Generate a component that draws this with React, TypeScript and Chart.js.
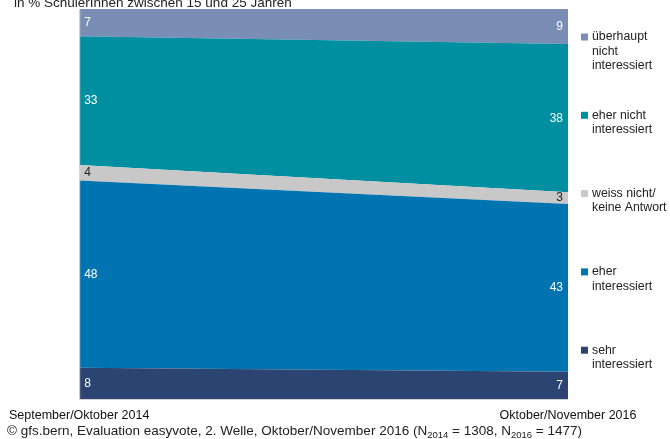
import React, { useEffect, useRef } from "react";
import { Chart, registerables } from "chart.js";

Chart.register(...registerables);

// ---- data ----
const periods = ["September/Oktober 2014", "Oktober/November 2016"];
const seriesNames = [
  "sehr interessiert",
  "eher interessiert",
  "weiss nicht/ keine Antwort",
  "eher nicht interessiert",
  "überhaupt nicht interessiert",
];
const sehrInteressiert = [8, 7];
const eherInteressiert = [48, 43];
const weissNicht = [4, 3];
const eherNichtInteressiert = [33, 38];
const ueberhauptNicht = [7, 9];
const legendLines = [
  ["sehr", "interessiert"],
  ["eher", "interessiert"],
  ["weiss nicht/", "keine Antwort"],
  ["eher nicht", "interessiert"],
  ["überhaupt", "nicht", "interessiert"],
];
const subtitle = "in % SchülerInnen zwischen 15 und 25 Jahren";
const footerParts = [
  { t: "© gfs.bern, Evaluation easyvote, 2. Welle, Oktober/November 2016 (N", sub: false },
  { t: "2014", sub: true },
  { t: " = 1308, N", sub: false },
  { t: "2016", sub: true },
  { t: " = 1477)", sub: false },
];

const colors = ["#2C4471", "#0073B1", "#C8C8C8", "#008FA0", "#7A8EB5"];
const labelColors = ["#ffffff", "#ffffff", "#222222", "#ffffff", "#ffffff"];
const FONT = "'Liberation Sans', Arial, sans-serif";

const overlayPlugin = {
  id: "overlay",
  afterDatasetsDraw(chart: any) {
    const { ctx, chartArea } = chart;
    const yScale = chart.scales.y;
    const ds = chart.data.datasets;
    ctx.save();
    // axis lines
    ctx.strokeStyle = "#d4d4d4";
    ctx.lineWidth = 1;
    ctx.beginPath();
    ctx.moveTo(chartArea.left + 0.5, chartArea.top);
    ctx.lineTo(chartArea.left + 0.5, chartArea.bottom + 0.5);
    ctx.lineTo(chartArea.right, chartArea.bottom + 0.5);
    ctx.stroke();

    // value labels
    ctx.font = `12px ${FONT}`;
    ctx.textBaseline = "middle";
    const n = ds[0].data.length;
    [0, n - 1].forEach((idx) => {
      let cum = 0;
      ds.forEach((d: any, i: number) => {
        const v = d.data[idx];
        const y = yScale.getPixelForValue(cum + v / 2);
        cum += v;
        ctx.fillStyle = labelColors[i];
        if (idx === 0) {
          ctx.textAlign = "left";
          ctx.fillText(String(v), chartArea.left + 5, y);
        } else {
          ctx.textAlign = "right";
          ctx.fillText(String(v), chartArea.right - 5, y);
        }
      });
    });

    // legend (top to bottom = reverse of stack order)
    ctx.font = `12.3px ${FONT}`;
    const order = [4, 3, 2, 1, 0];
    order.forEach((si, k) => {
      const cy = 37 + k * 78.3;
      ctx.fillStyle = colors[si];
      ctx.fillRect(581, cy - 3.5, 7, 7);
      ctx.fillStyle = "#222";
      ctx.textAlign = "left";
      ctx.textBaseline = "middle";
      legendLines[si].forEach((line, li) => {
        ctx.fillText(line, 592, cy + li * 14.5);
      });
    });

    // subtitle
    ctx.font = `13.5px ${FONT}`;
    ctx.textBaseline = "alphabetic";
    ctx.textAlign = "left";
    ctx.fillStyle = "#222";
    ctx.fillText(subtitle, 14, 6.5);

    // footer
    let x = 7;
    const base = 435;
    footerParts.forEach((p) => {
      ctx.font = p.sub ? `9.5px ${FONT}` : `13.5px ${FONT}`;
      ctx.fillText(p.t, x, p.sub ? base + 2.5 : base);
      x += ctx.measureText(p.t).width;
    });
    ctx.restore();
  },
};

export default function App() {
  const ref = useRef<HTMLCanvasElement | null>(null);
  useEffect(() => {
    if (!ref.current) return;
    const series = [sehrInteressiert, eherInteressiert, weissNicht, eherNichtInteressiert, ueberhauptNicht];
    const chart = new Chart(ref.current, {
      type: "line",
      data: {
        labels: periods,
        datasets: series.map((s, i) => ({
          label: seriesNames[i],
          data: s,
          backgroundColor: colors[i],
          borderColor: colors[i],
          borderWidth: 0,
          pointRadius: 0,
          tension: 0,
          fill: i === 0 ? "origin" : "-1",
        })),
      },
      options: {
        animation: false,
        responsive: true,
        maintainAspectRatio: false,
        layout: { padding: { left: 78, right: 102, top: 9, bottom: 7 } },
        plugins: { legend: { display: false }, tooltip: { enabled: false } },
        scales: {
          x: {
            offset: false,
            grid: { display: false, drawTicks: false },
            border: { display: false },
            ticks: {
              padding: 9,
              color: "#111",
              font: { family: FONT, size: 12.5 },
              maxRotation: 0,
              autoSkip: false,
            },
          },
          y: { display: false, stacked: true, min: 0, max: 100 },
        },
      },
      plugins: [overlayPlugin],
    });
    return () => chart.destroy();
  }, []);
  return (
    <div style={{ position: "fixed", left: 0, top: 0, width: 670, height: 439, background: "#fff" }}>
      <canvas ref={ref} />
    </div>
  );
}
